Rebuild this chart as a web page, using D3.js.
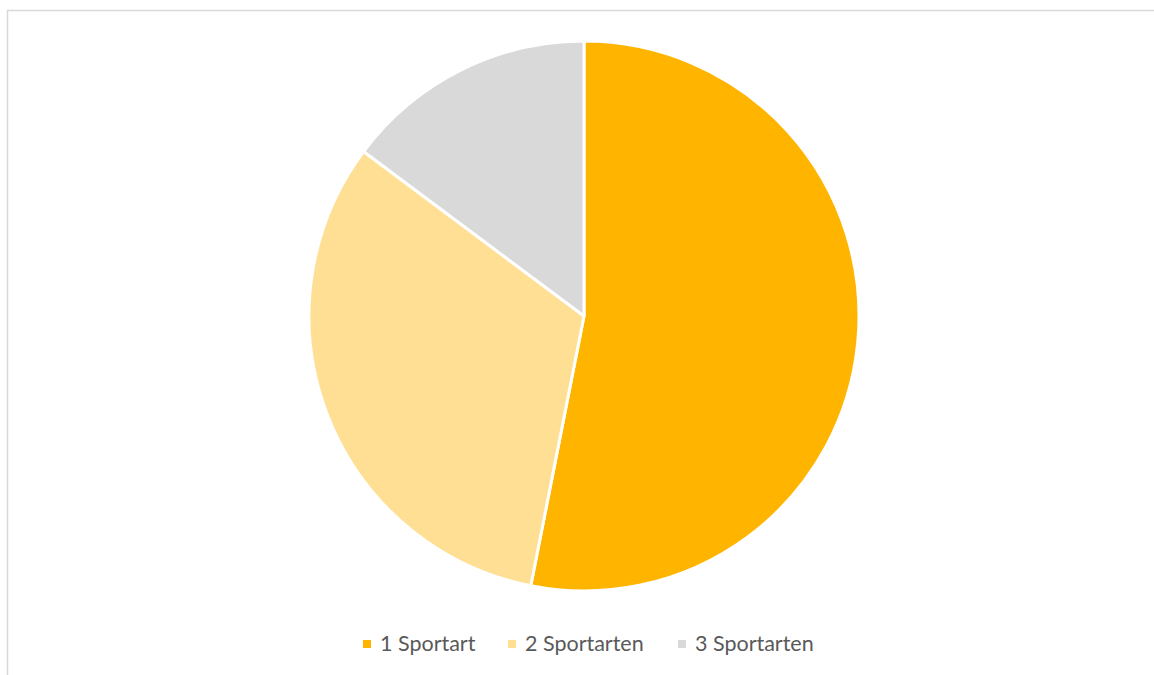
<!DOCTYPE html>
<html>
<head>
<meta charset="utf-8">
<script src="https://cdn.jsdelivr.net/npm/d3@7"></script>
<style>
    body { margin: 0; background: #fff; }
    svg { display: block; }
</style>
</head>
<body>
<div class="vis"></div>
<script>
    const categories = ['1 Sportart', '2 Sportarten', '3 Sportarten'];
    const values = [53.1, 32.1, 14.8];
    const colors = ['#FFB400', '#FFDF93', '#D9D9D9'];

    const width = 1154, height = 675;

    const svg = d3.select('.vis').append('svg')
        .attr('width', width)
        .attr('height', height);

    // chart frame (only top and left edges fall inside the window)
    svg.append('rect')
        .attr('x', 7.5)
        .attr('y', 10.5)
        .attr('width', 1160)
        .attr('height', 700)
        .attr('fill', 'none')
        .attr('stroke', '#d9d9d9')
        .attr('stroke-width', 1.5);

    const cx = 584, cy = 316, r = 275;

    const pie = d3.pie().sort(null).value(d => d)(values);
    const arc = d3.arc().innerRadius(0).outerRadius(r);

    const g = svg.append('g').attr('transform', `translate(${cx},${cy})`);
    g.selectAll('path')
        .data(pie)
        .enter().append('path')
        .attr('d', arc)
        .attr('fill', (d, i) => colors[i])
        .attr('stroke', '#fff')
        .attr('stroke-width', 3)
        .attr('stroke-linejoin', 'round');

    // legend
    const legendX = [363, 508, 678];
    const legend = svg.selectAll('.legend')
        .data(categories)
        .enter().append('g')
        .attr('class', 'legend')
        .attr('transform', (d, i) => `translate(${legendX[i]},640)`);

    legend.append('rect')
        .attr('width', 8)
        .attr('height', 8)
        .attr('fill', (d, i) => colors[i]);

    legend.append('text')
        .attr('x', 17)
        .attr('y', 11)
        .attr('fill', '#595959')
        .style('font-family', 'Lato, "Open Sans", sans-serif')
        .style('font-size', '21.5px')
        .text(d => d);
</script>
</body>
</html>
